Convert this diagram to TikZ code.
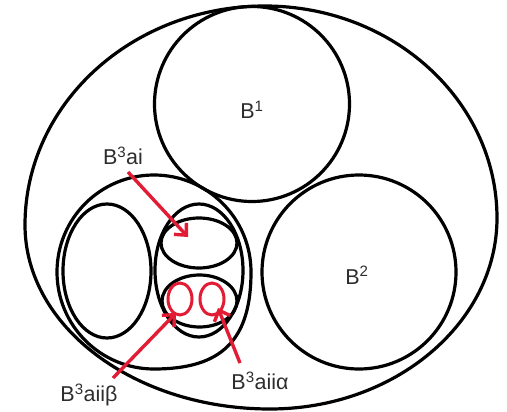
\documentclass[tikz,border=0pt]{standalone}
\usepackage{fontspec}
\setmainfont{Liberation Sans}
\usetikzlibrary{arrows.meta}
\definecolor{arrred}{RGB}{226,28,52}
\definecolor{txt}{RGB}{45,45,45}
\begin{document}
\begin{tikzpicture}[x=1pt,y=-1pt,
  ring/.style={draw=black,line width=3.2pt},
  redring/.style={draw=arrred,line width=3pt},
  pointer/.style={draw=arrred,line width=3.4pt,-{Straight Barb[length=9pt,width=17pt,line width=3.4pt]}},
  lab/.style={text=txt,font=\fontsize{21.5}{24}\selectfont,inner sep=0pt}]
\useasboundingbox (0,0) rectangle (507,412);
% outer set (egg-shaped)
\draw[ring] (25,225) .. controls (25,104) and (132,6) .. (265,6)
  .. controls (393,6) and (497,101) .. (497,218)
  .. controls (497,323) and (395,409) .. (270,409)
  .. controls (135,409) and (25,327) .. (25,225) -- cycle;
% B1, B2
\draw[ring] (252,104) circle [radius=97.5];
\draw[ring] (359,272) circle [radius=97];
% B3 outline
\draw[ring] (57,272) .. controls (57,218.4) and (100.4,175) .. (154,175)
  .. controls (207.6,175) and (251,218.4) .. (251,272)
  .. controls (251,340) and (222,369) .. (154,369)
  .. controls (100.4,369) and (57,325.6) .. (57,272) -- cycle;
\draw[ring] (107,271) ellipse [x radius=44,y radius=67];
\draw[ring] (199,270.5) ellipse [x radius=44,y radius=66.5];
\draw[ring] (199,243) ellipse [x radius=38,y radius=25];
\draw[ring] (199.5,301) ellipse [x radius=37.5,y radius=26];
% red loops
\draw[redring] (180,299) ellipse [x radius=12,y radius=16];
\draw[redring] (212,299) ellipse [x radius=12,y radius=16];
% labels
\node[lab] (b1) at (252,110) {B\textsuperscript{1}};
\node[lab] (b2) at (357,275) {B\textsuperscript{2}};
\node[lab] (lai) at (123,156) {B\textsuperscript{3}ai};
\node[lab] (lbeta) at (89,395) {B\textsuperscript{3}aiiβ};
\node[lab] (lalpha) at (260,381) {B\textsuperscript{3}aiiα};
% arrows
\coordinate (tai) at (188,237);
\coordinate (tbeta) at (176,313);
\coordinate (talpha) at (218,308);
\coordinate (sai) at (128,172);
\coordinate (sbeta) at (113,378);
\coordinate (salpha) at (240,363);
\draw[pointer] (sai) -- (tai);
\draw[pointer] (sbeta) -- (tbeta);
\draw[pointer] (salpha) -- (talpha);
\end{tikzpicture}
\end{document}
